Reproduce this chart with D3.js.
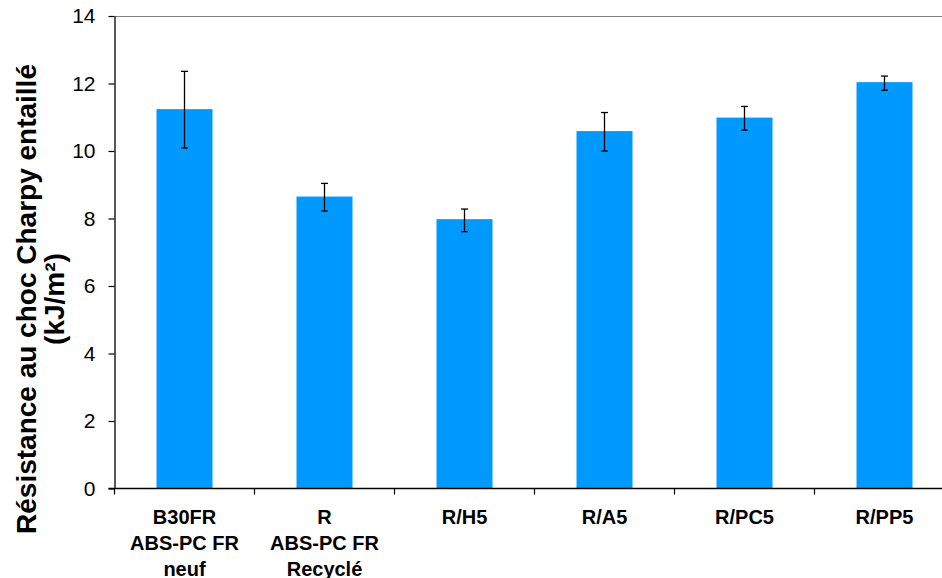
<!DOCTYPE html>
<html><head><meta charset="utf-8">
<script src="https://cdn.jsdelivr.net/npm/d3@7"></script>
<style>body{margin:0;background:#fff}svg{display:block}</style>
</head><body>
<svg id="c" width="942" height="578"></svg>
<script>
const categories = ["B30FR\nABS-PC FR\nneuf", "R\nABS-PC FR\nRecyclé", "R/H5", "R/A5", "R/PC5", "R/PP5"];
const values = [11.24, 8.65, 7.98, 10.59, 10.99, 12.04];
const errPlus = [1.12, 0.39, 0.30, 0.55, 0.33, 0.18];
const errMinus = [1.15, 0.43, 0.37, 0.59, 0.37, 0.24];
const yTicks = [0, 2, 4, 6, 8, 10, 12, 14];
const yTitle = ["Résistance au choc Charpy entaillé", "(kJ/m²)"];

(function () {
const svg = d3.select("#c");
const pLeft = 114.5, pTop = 16, pBottom = 488.5, pRight = 954.5;
const x = d3.scaleBand().domain(categories).range([pLeft, pRight]).paddingInner(0).paddingOuter(0);
const y = d3.scaleLinear().domain([0, 14]).range([pBottom, pTop]);
const bw = x.bandwidth() * 0.4;

// top border
svg.append("line").attr("x1", pLeft).attr("x2", pRight).attr("y1", pTop + 0.5).attr("y2", pTop + 0.5)
  .attr("stroke", "#808080").attr("stroke-width", 1.2);

// bars
svg.selectAll("rect.bar").data(categories).enter().append("rect")
  .attr("x", d => x(d) + x.bandwidth() / 2 - bw / 2)
  .attr("width", bw)
  .attr("y", (d, i) => y(values[i]))
  .attr("height", (d, i) => y(0) - y(values[i]))
  .attr("fill", "#0099FF");

// error bars
const eg = svg.append("g").attr("stroke", "#000").attr("stroke-width", 1.3);
categories.forEach((c, i) => {
  const cx = x(c) + x.bandwidth() / 2;
  const y1 = y(values[i] + errPlus[i]), y2 = y(values[i] - errMinus[i]);
  eg.append("line").attr("x1", cx).attr("x2", cx).attr("y1", y1).attr("y2", y2);
  eg.append("line").attr("x1", cx - 3.5).attr("x2", cx + 3.5).attr("y1", y1).attr("y2", y1);
  eg.append("line").attr("x1", cx - 3.5).attr("x2", cx + 3.5).attr("y1", y2).attr("y2", y2);
});

// y axis
const ya = svg.append("g").attr("transform", `translate(${pLeft},0)`)
  .call(d3.axisLeft(y).tickValues(yTicks).tickSize(6).tickPadding(13).tickSizeOuter(0));
ya.select(".domain").attr("stroke", "#000").attr("stroke-width", 1.3);
ya.selectAll(".tick line").attr("stroke", "#000").attr("stroke-width", 1.2);
ya.selectAll(".tick text").attr("font-family", "Liberation Sans, Arial, sans-serif")
  .attr("font-size", 21).attr("fill", "#000");

// x axis line
svg.append("line").attr("x1", pLeft - 6).attr("x2", pRight).attr("y1", pBottom).attr("y2", pBottom)
  .attr("stroke", "#000").attr("stroke-width", 1.3);
// boundary ticks
const bounds = categories.map(c => x(c)).concat([x(categories[categories.length - 1]) + x.bandwidth()]);
svg.selectAll("line.xt").data(bounds).enter().append("line")
  .attr("x1", d => d).attr("x2", d => d).attr("y1", pBottom).attr("y2", pBottom + 6)
  .attr("stroke", "#000").attr("stroke-width", 1.2);

// x labels
const xl = svg.append("g").attr("font-family", "Liberation Sans, Arial, sans-serif")
  .attr("font-size", 20).attr("font-weight", "bold").attr("text-anchor", "middle").attr("fill", "#000");
categories.forEach(c => {
  const t = xl.append("text").attr("x", x(c) + x.bandwidth() / 2).attr("y", 523.5);
  c.split("\n").forEach((ln, j) => {
    t.append("tspan").attr("x", x(c) + x.bandwidth() / 2).attr("dy", j === 0 ? 0 : 26).text(ln);
  });
});

// y title
const yt = svg.append("text").attr("transform", "translate(0,299) rotate(-90)")
  .attr("font-family", "Liberation Sans, Arial, sans-serif").attr("font-size", 28)
  .attr("font-weight", "bold").attr("text-anchor", "middle").attr("fill", "#000");
yTitle.forEach((ln, j) => {
  yt.append("tspan").attr("x", 0).attr("y", j === 0 ? 36 : 64).text(ln);
});
})();
</script>
</body></html>
